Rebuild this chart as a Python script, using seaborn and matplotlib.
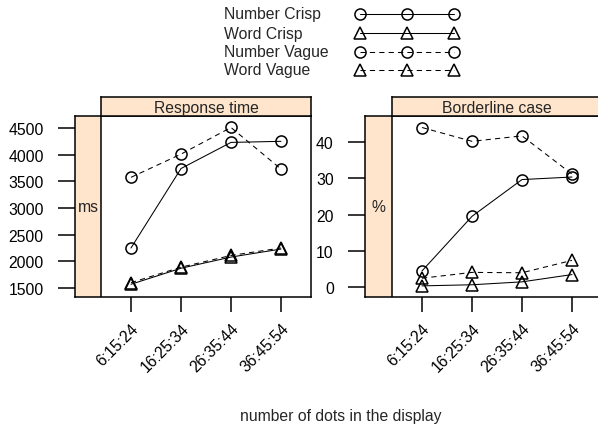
import numpy as np
import pandas as pd
import matplotlib
matplotlib.use("Agg")
import matplotlib.pyplot as plt
from matplotlib.lines import Line2D
import seaborn as sns

# ---------------- data ----------------
categories = ["6:15:24", "16:25:34", "26:35:44", "36:45:54"]
series_names = ["Number Crisp", "Word Crisp", "Number Vague", "Word Vague"]

rt_number_crisp = [2250, 3740, 4230, 4250]
rt_word_crisp = [1570, 1870, 2080, 2230]
rt_number_vague = [3575, 4010, 4510, 3730]
rt_word_vague = [1600, 1890, 2110, 2250]

bl_number_crisp = [4.5, 19.5, 29.6, 30.3]
bl_word_crisp = [0.4, 0.7, 1.5, 3.5]
bl_number_vague = [43.9, 40.1, 41.6, 31.1]
bl_word_vague = [2.5, 4.1, 4.0, 7.4]

panel_titles = ["Response time", "Borderline case"]
panel_units = ["ms", "%"]
rt_ticks = [1500, 2000, 2500, 3000, 3500, 4000, 4500]
bl_ticks = [0, 10, 20, 30, 40]
xlabel = "number of dots in the display"

# ---------------- style ----------------
sns.set_style("white")
plt.rcParams["font.family"] = ["Liberation Sans", "DejaVu Sans"]
FS = 11.3
STRIP = "#ffe5cc"
LW_BOX = 1.1

W, H = 598, 427
DPI = 100
fig = plt.figure(figsize=(W / DPI, H / DPI), dpi=DPI)


def rect(x0, y0, x1, y1):
    return [x0 / W, 1 - y1 / H, (x1 - x0) / W, (y1 - y0) / H]


markers = {"Number Crisp": "o", "Word Crisp": "^", "Number Vague": "o", "Word Vague": "^"}
msizes = {"o": 8.0, "^": 9.0}
dashes = {"Number Crisp": "-", "Word Crisp": "-",
          "Number Vague": (0, (5, 4)), "Word Vague": (0, (5, 4))}

panel_data = [
    [rt_number_crisp, rt_word_crisp, rt_number_vague, rt_word_vague],
    [bl_number_crisp, bl_word_crisp, bl_number_vague, bl_word_vague],
]
panel_ticks = [rt_ticks, bl_ticks]
panel_ylims = [(1331, 4725), (-2.66, 47.06)]
# pixel extents: strip-left, panel-left, panel-right
panel_px = [(75, 101, 311), (365, 392, 602)]
XL, XR = 0.4, 4.6  # data range of the panel interior

rows = []
for p, title in enumerate(panel_titles):
    for s, name in enumerate(series_names):
        for i, cat in enumerate(categories):
            rows.append({"panel": title, "series": name, "pos": i + 1,
                         "cat": cat, "value": panel_data[p][s][i]})
df = pd.DataFrame(rows)

for p, title in enumerate(panel_titles):
    s0, x0, x1 = panel_px[p]
    ax = fig.add_axes(rect(s0, 117, x1, 298))
    ppu = (x1 - x0) / (XR - XL)
    strip_left = XL - (x0 - s0) / ppu
    # unit strip on the left inside the same axes
    ax.axvspan(strip_left, XL, color=STRIP, zorder=0, linewidth=0)
    ax.axvline(XL, color="black", linewidth=LW_BOX, zorder=1)
    ax.text((strip_left + XL) / 2, 0.5, panel_units[p], ha="center",
            va="center", fontsize=FS,
            transform=ax.get_xaxis_transform())
    sub = df[df["panel"] == title]
    for name in series_names:
        d = sub[sub["series"] == name]
        mk = markers[name]
        sns.lineplot(data=d, x="pos", y="value", ax=ax, color="black",
                     linewidth=0.75, linestyle=dashes[name], marker=mk,
                     markersize=msizes[mk], markerfacecolor="none",
                     markeredgecolor="black", markeredgewidth=1.1,
                     errorbar=None, legend=False, sort=False, zorder=3)
    ax.set_xlim(strip_left, XR)
    ax.set_ylim(*panel_ylims[p])
    ax.set_xticks(range(1, len(categories) + 1))
    ax.set_xticklabels(categories, rotation=45, ha="right", va="top",
                       rotation_mode="anchor", fontsize=FS)
    ax.set_yticks(panel_ticks[p])
    ax.set_yticklabels([str(t) for t in panel_ticks[p]], fontsize=FS)
    ax.set_xlabel("")
    ax.set_ylabel("")
    for sp in ax.spines.values():
        sp.set_visible(True)
        sp.set_linewidth(LW_BOX)
        sp.set_color("black")
    ax.tick_params(axis="y", direction="out", length=12, width=1.1, pad=10.5,
                   left=True, colors="black")
    ax.tick_params(axis="x", direction="out", length=10.8, width=1.1, pad=6,
                   bottom=True, colors="black")

    # title strip
    tax = fig.add_axes(rect(x0, 98, x1, 117))
    tax.set_facecolor(STRIP)
    tax.set_xticks([])
    tax.set_yticks([])
    for sp in tax.spines.values():
        sp.set_linewidth(LW_BOX)
        sp.set_color("black")
    tax.text(0.5, 0.45, title, ha="center", va="center", fontsize=FS,
             transform=tax.transAxes)

# x label
fig.text(341 / W, 1 - 417 / H, xlabel, ha="center", va="center", fontsize=FS)

# key (legend) at the top
key_rows_px = [15, 34, 53, 71]
key_text_x = 224
key_pts_x = [360, 407, 454]
for n, yk in zip(series_names, key_rows_px):
    fig.text(key_text_x / W, 1 - yk / H, n, ha="left", va="center",
             fontsize=FS)
    fig.add_artist(Line2D([x / W for x in key_pts_x], [1 - yk / H] * 3,
                          transform=fig.transFigure, color="black",
                          linewidth=0.75, linestyle=dashes[n],
                          marker=markers[n], markersize=msizes[markers[n]],
                          markerfacecolor="none", markeredgecolor="black",
                          markeredgewidth=1.1))

fig.savefig("out.png", dpi=DPI)
